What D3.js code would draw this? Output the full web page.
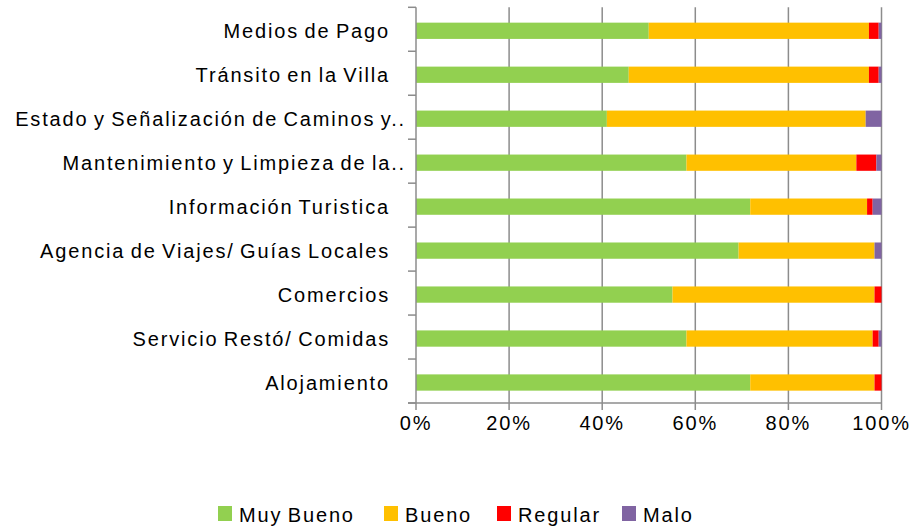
<!DOCTYPE html>
<html>
<head>
<meta charset="utf-8">
<script src="https://cdn.jsdelivr.net/npm/d3@7"></script>
<style>
  body { margin: 0; background: #fff; }
  text { font-family: "Liberation Sans", Arial, sans-serif; fill: #000; letter-spacing: 1.85px; word-spacing: -2px; }
</style>
</head>
<body>
<svg id="chart" width="916" height="528"></svg>
<script>
// data, top to bottom as drawn
var categories = ["Medios de Pago", "Tránsito en la Villa", "Estado y Señalización de Caminos y..", "Mantenimiento y Limpieza de la..", "Información Turistica", "Agencia de Viajes/  Guías Locales", "Comercios", "Servicio Restó/ Comidas", "Alojamiento"]
var series = ["Muy Bueno", "Bueno", "Regular", "Malo"]
var muyBueno = [50.0, 45.7, 41.0, 58.1, 71.8, 69.3, 55.1, 58.1, 71.8]
var bueno = [47.3, 51.6, 55.6, 36.5, 25.1, 29.2, 43.4, 40.0, 26.7]
var regular = [2.1, 2.1, 0.0, 4.3, 1.2, 0.0, 1.5, 1.3, 1.5]
var malo = [0.6, 0.6, 3.4, 1.1, 1.9, 1.5, 0.0, 0.6, 0.0]
var ticks = [0, 20, 40, 60, 80, 100]
var colors = ["#92d050", "#ffc000", "#ff0000", "#8064a2"]

var svg = d3.select("#chart")
var plotL = 416, plotR = 881.5, plotT = 7.3, plotB = 403

var x = d3.scaleLinear().domain([0, 100]).range([plotL, plotR])
var y = d3.scaleBand().domain(categories).range([plotT, plotB]).paddingInner(0.63).paddingOuter(0.315)

var rows = categories.map(function(c, i) {
    return {cat: c, "Muy Bueno": muyBueno[i], "Bueno": bueno[i], "Regular": regular[i], "Malo": malo[i]}
})
rows.forEach(function(r) {
    var s = r["Muy Bueno"] + r["Bueno"] + r["Regular"] + r["Malo"]
    series.forEach(function(k) { r[k] = r[k] / s * 100 })
})
var stacked = d3.stack().keys(series)(rows)

// gridlines
svg.append("g").selectAll("line").data(ticks.slice(1)).enter().append("line")
    .attr("x1", function(d) { return x(d) }).attr("x2", function(d) { return x(d) })
    .attr("y1", plotT).attr("y2", plotB + 7)
    .attr("stroke", "#8c8c8c").attr("stroke-width", 1.5)

// bars
svg.append("g").selectAll("g").data(stacked).enter().append("g")
    .attr("fill", function(d, i) { return colors[i] })
    .selectAll("rect").data(function(d) { return d }).enter().append("rect")
    .attr("x", function(d) { return x(d[0]) })
    .attr("width", function(d) { return Math.max(0, x(d[1]) - x(d[0])) })
    .attr("y", function(d) { return y(d.data.cat) + 1.5 })
    .attr("height", y.bandwidth())

// axes
var ax = svg.append("g").attr("stroke", "#8c8c8c").attr("stroke-width", 1.5)
ax.append("line").attr("x1", plotL).attr("x2", plotL).attr("y1", plotT).attr("y2", plotB + 7)
ax.append("line").attr("x1", plotL - 8).attr("x2", plotR).attr("y1", plotB).attr("y2", plotB)
var yTicks = categories.map(function(c) { return y(c) - y.step() * y.paddingInner() / 2 })
yTicks.push(plotB)
ax.selectAll(".yt").data(yTicks).enter().append("line")
    .attr("x1", plotL - 8).attr("x2", plotL)
    .attr("y1", function(d) { return d }).attr("y2", function(d) { return d })

// category labels
svg.append("g").selectAll("text").data(categories).enter().append("text")
    .attr("x", function(d) { return d.endsWith("..") ? 406 : 390 })
    .attr("y", function(d) { return y(d) + y.bandwidth() / 2 + 1.5 })
    .attr("dy", "0.35em")
    .attr("text-anchor", "end")
    .attr("font-size", 20)
    .text(function(d) { return d })

// x tick labels
svg.append("g").selectAll("text").data(ticks).enter().append("text")
    .attr("x", function(d) { return x(d) })
    .attr("y", 423).attr("dy", "0.35em")
    .attr("text-anchor", "middle")
    .attr("font-size", 20)
    .text(function(d) { return d + "%" })

// legend
var legX = [218, 384, 497, 622]
var leg = svg.append("g").selectAll("g").data(series).enter().append("g")
    .attr("transform", function(d, i) { return "translate(" + legX[i] + ",506)" })
leg.append("rect").attr("width", 14).attr("height", 15)
    .attr("fill", function(d, i) { return colors[i] })
leg.append("text").attr("x", 21).attr("y", 8.5).attr("dy", "0.35em")
    .attr("font-size", 20)
    .text(function(d) { return d })
</script>
</body>
</html>
